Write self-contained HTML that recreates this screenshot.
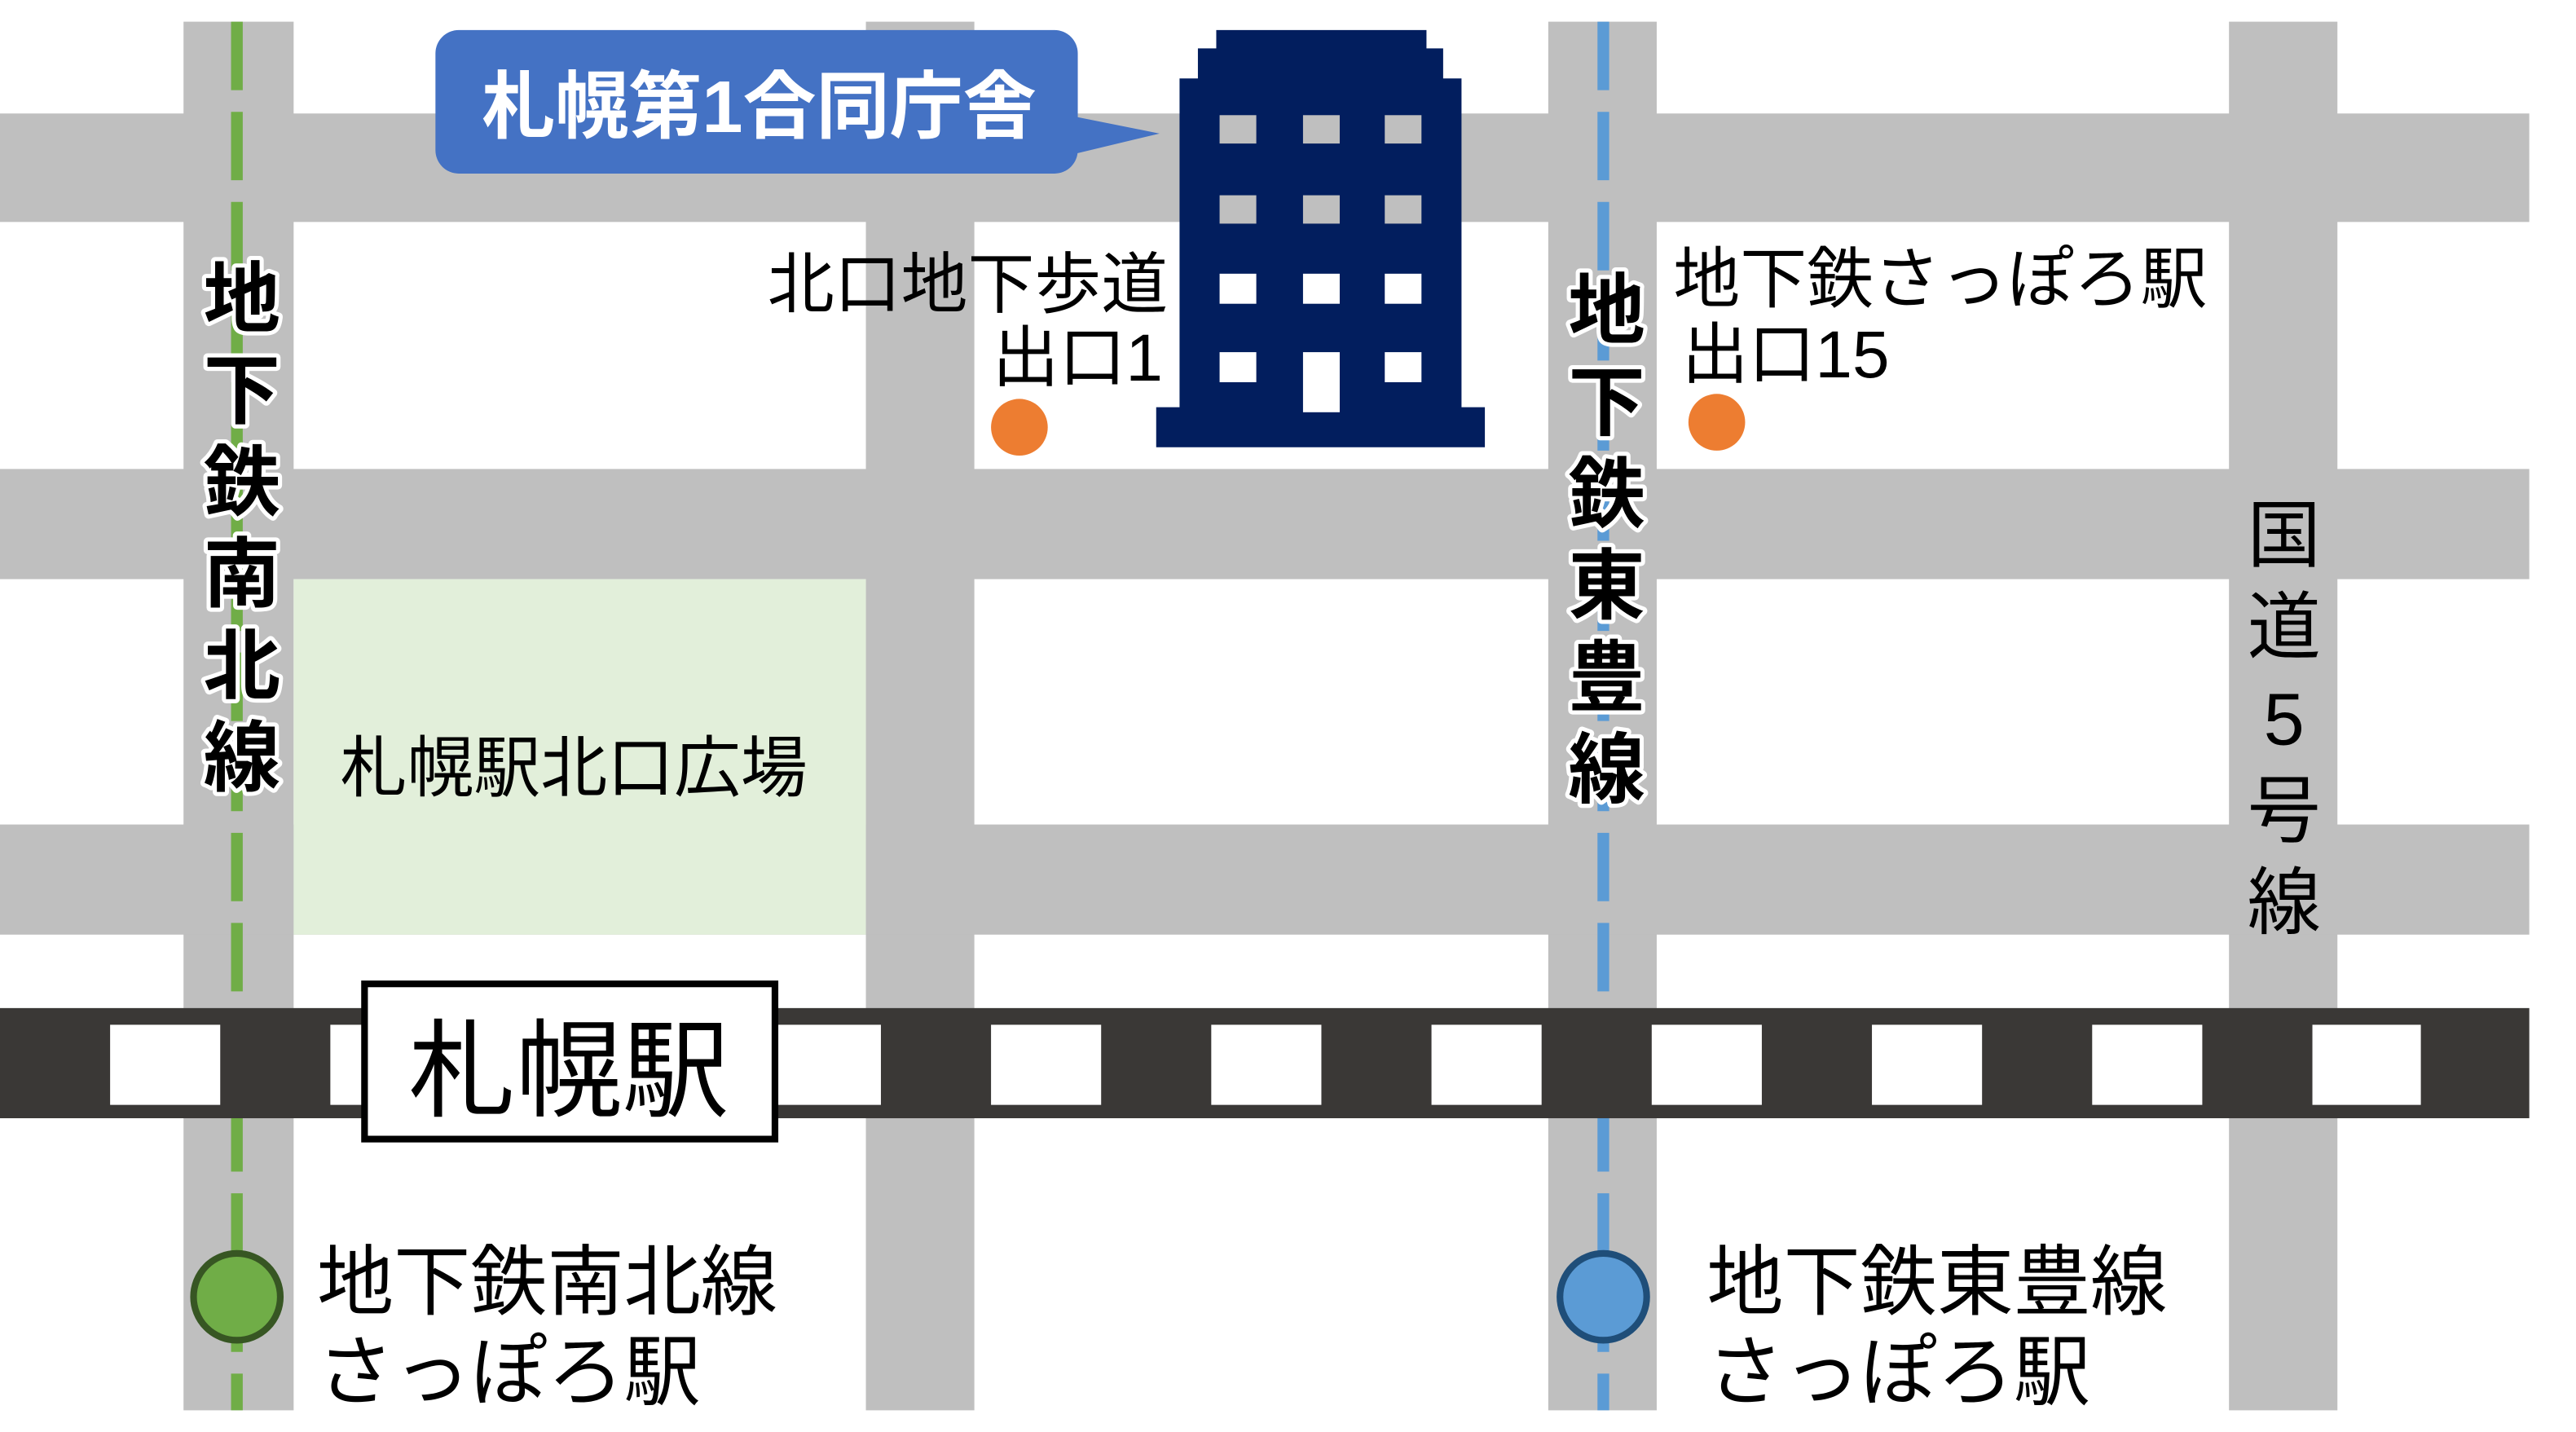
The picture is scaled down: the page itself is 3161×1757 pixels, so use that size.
<!DOCTYPE html>
<html><head><meta charset="utf-8"><style>
html,body{margin:0;padding:0;background:#fff;overflow:hidden}
svg{display:block}
text{font-family:"Liberation Sans","Noto Sans CJK JP",sans-serif}
.v{font-weight:bold;font-size:46px;text-anchor:middle;paint-order:stroke;stroke:#fff;stroke-width:5px;stroke-linejoin:round}
</style></head><body>
<svg width="3161" height="1757" viewBox="0 0 1544 858" preserveAspectRatio="none" xmlns="http://www.w3.org/2000/svg">
<rect width="1544" height="858" fill="#fff"/>
<g fill="#bfbfbf">
<rect x="110" y="13" width="66" height="832"/>
<rect x="519" y="13" width="65" height="832"/>
<rect x="928" y="13" width="65" height="832"/>
<rect x="1336" y="13" width="65" height="832"/>
<rect x="0" y="68" width="1516" height="65"/>
<rect x="0" y="281" width="1516" height="66"/>
<rect x="0" y="494" width="1516" height="66"/>
</g>
<rect x="176" y="347" width="343" height="213" fill="#e2efda"/>
<line x1="142" y1="13" x2="142" y2="845" stroke="#70ad47" stroke-width="7" stroke-dasharray="41 13"/>
<line x1="961" y1="13" x2="961" y2="845" stroke="#5b9bd5" stroke-width="7" stroke-dasharray="41 13"/>
<!-- rail -->
<rect x="0" y="604" width="1516" height="66" fill="#3a3836"/>
<g fill="#fff">
<rect x="66" y="614" width="66" height="48"/><rect x="198" y="614" width="66" height="48"/>
<rect x="462" y="614" width="66" height="48"/><rect x="594" y="614" width="66" height="48"/>
<rect x="726" y="614" width="66" height="48"/><rect x="858" y="614" width="66" height="48"/>
<rect x="990" y="614" width="66" height="48"/><rect x="1122" y="614" width="66" height="48"/>
<rect x="1254" y="614" width="66" height="48"/><rect x="1386" y="614" width="65" height="48"/>
</g>
<rect x="218.5" y="589.5" width="246" height="93" fill="#fff" stroke="#000" stroke-width="4"/>
<text x="341" y="664" font-size="64" text-anchor="middle">札幌駅</text>
<!-- building -->
<path d="M729 18H855V29H865V47H876V244H890V268H693V244H707V47H718V29H729Z" fill="#021e5e"/>
<g fill="#bfbfbf">
<rect x="731" y="69" width="22" height="17"/><rect x="781" y="69" width="22" height="17"/><rect x="830" y="69" width="22" height="17"/>
<rect x="731" y="117" width="22" height="17"/><rect x="781" y="117" width="22" height="17"/><rect x="830" y="117" width="22" height="17"/>
</g>
<g fill="#fff">
<rect x="731" y="164" width="22" height="18"/><rect x="781" y="164" width="22" height="18"/><rect x="830" y="164" width="22" height="18"/>
<rect x="731" y="211" width="22" height="18"/><rect x="781" y="211" width="22" height="36"/><rect x="830" y="211" width="22" height="18"/>
</g>
<!-- callout -->
<rect x="261" y="18" width="385" height="86" rx="14" fill="#4472c4"/>
<path d="M645 70L695 80L645 92Z" fill="#4472c4"/>
<text x="455" y="79" font-size="44" font-weight="bold" fill="#fff" text-anchor="middle">札幌第1合同庁舎</text>
<!-- dots -->
<circle cx="611" cy="256" r="17" fill="#ed7d31"/>
<circle cx="1029" cy="253" r="17" fill="#ed7d31"/>
<g font-size="40" fill="#000">
<text x="700" y="184" text-anchor="end">北口地下歩道</text>
<text x="697" y="228" text-anchor="end">出口1</text>
<text x="1003" y="181">地下鉄さっぽろ駅</text>
<text x="1008" y="226">出口15</text>
<text x="204" y="474">札幌駅北口広場</text>
</g>
<!-- vertical labels -->
<g class="v">
<text x="145" y="195">地</text><text x="145" y="250">下</text><text x="145" y="305">鉄</text>
<text x="145" y="360">南</text><text x="145" y="415">北</text><text x="145" y="470">線</text>
<text x="963" y="202">地</text><text x="963" y="257">下</text><text x="963" y="312">鉄</text>
<text x="963" y="367">東</text><text x="963" y="422">豊</text><text x="963" y="477">線</text>
</g>
<g font-size="44" text-anchor="middle">
<text x="1369" y="336">国</text><text x="1369" y="391">道</text><text x="1369" y="446">5</text>
<text x="1369" y="501">号</text><text x="1369" y="556">線</text>
</g>
<!-- stations -->
<circle cx="142" cy="777" r="26" fill="#70ad47" stroke="#375623" stroke-width="4"/>
<circle cx="961" cy="777" r="26" fill="#5b9bd5" stroke="#1f4e79" stroke-width="4"/>
<g font-size="46">
<text x="190" y="784">地下鉄南北線</text>
<text x="190" y="838">さっぽろ駅</text>
<text x="1023" y="784">地下鉄東豊線</text>
<text x="1023" y="838">さっぽろ駅</text>
</g>
</svg>
</body></html>
